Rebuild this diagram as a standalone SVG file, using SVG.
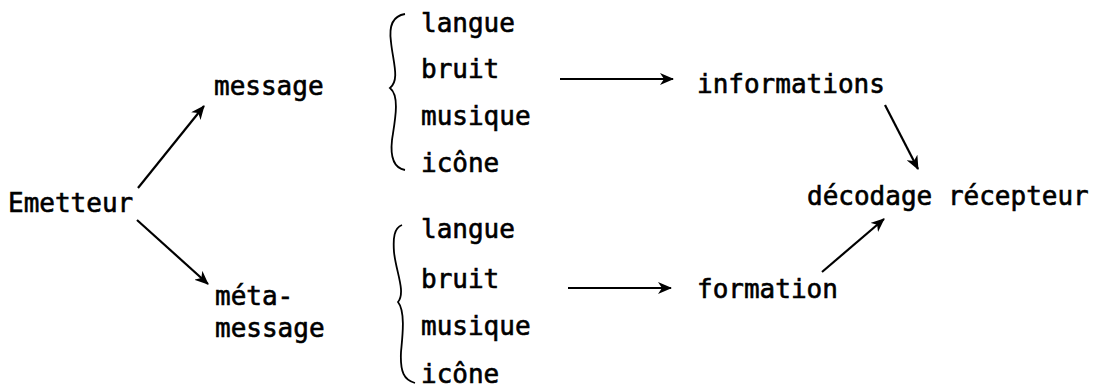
<svg xmlns="http://www.w3.org/2000/svg" width="1112" height="387" viewBox="0 0 1112 387">
<defs>
<style>
text{font-family:"DejaVu Sans Mono","Liberation Mono",monospace;font-size:26px;fill:#000;stroke:#000;stroke-width:0.6}
.c{stroke:#000;stroke-width:2.2;fill:none}
.b{stroke:#000;stroke-width:1.8;fill:none}
</style>
<marker id="ah" markerWidth="16" markerHeight="12" refX="13" refY="6" orient="auto" markerUnits="userSpaceOnUse">
<path d="M0,0 L14,6 L0,12 L4,6 Z" fill="#000"/>
</marker>
</defs>
<rect width="1112" height="387" fill="#fff"/>
<g id="emetteur"><text x="8" y="212">Emetteur</text></g>
<g id="message"><text x="214" y="95">message</text></g>
<g id="metamessage"><text x="215" y="305">méta-</text><text x="215" y="337">message</text></g>
<g id="list1">
<path class="b" d="M405,14 C392,16 389,28 391,42 C393,62 400,80 390,88 C400,96 395,120 392,140 C390,158 394,168 405,170"/>
<text x="421" y="32">langue</text>
<text x="421" y="78">bruit</text>
<text x="421" y="125">musique</text>
<text x="421" y="172">icône</text>
</g>
<g id="list2">
<path class="b" d="M402,225 C394,228 393,238 394,252 C396,272 406,292 398,302 C406,312 402,340 401,352 C400,372 404,380 415,383"/>
<text x="421" y="238">langue</text>
<text x="421" y="288">bruit</text>
<text x="421" y="335">musique</text>
<text x="421" y="383">icône</text>
</g>
<g id="informations"><text x="697" y="93">informations</text></g>
<g id="formation"><text x="697" y="298">formation</text></g>
<g id="decodage"><text x="807" y="205">décodage récepteur</text></g>
<g id="connectors">
<line class="c" x1="138" y1="188" x2="204" y2="106" marker-end="url(#ah)"/>
<line class="c" x1="137" y1="220" x2="208" y2="284" marker-end="url(#ah)"/>
<line class="c" x1="560" y1="79" x2="673" y2="79" marker-end="url(#ah)"/>
<line class="c" x1="568" y1="288" x2="671" y2="288" marker-end="url(#ah)"/>
<line class="c" x1="885" y1="105" x2="918" y2="169" marker-end="url(#ah)"/>
<line class="c" x1="822" y1="272" x2="884" y2="219" marker-end="url(#ah)"/>
</g>
</svg>
